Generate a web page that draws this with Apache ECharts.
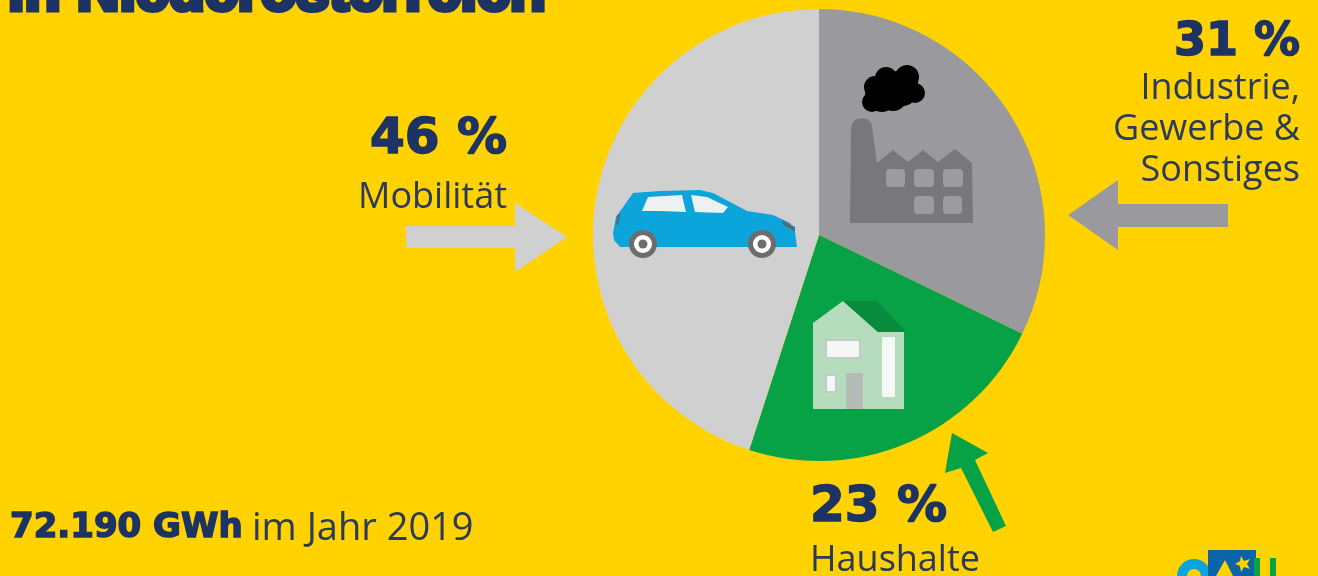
<!DOCTYPE html>
<html>
<head>
<meta charset="utf-8">
<style>
  html, body { margin: 0; padding: 0; background: #ffd200; overflow: hidden; }
  #chart { width: 1318px; height: 576px; }
</style>
<script src="https://cdn.jsdelivr.net/npm/echarts@6/dist/echarts.min.js"></script>
</head>
<body>
<div id="chart"></div>
<script>
// Daten
const categories = ['Industrie, Gewerbe & Sonstiges', 'Haushalte', 'Mobilität']
const percentLabels = ['31 %', '23 %', '46 %']
// Sektoren wie im Bild gemessen (weicht leicht von den aufgedruckten Prozenten ab)
const sliceValues = [32.2, 22.8, 45]
const title = 'in Niederösterreich'
const totalValue = '72.190 GWh'
const totalSuffix = 'im Jahr 2019'

// Farben
const NAVY = '#1d3364'
const TEXT = '#2b3a5c'
const GREY = '#9a9a9e'
const LIGHT = '#d0d0d0'
const GREEN = '#07a245'
const BLUE = '#0ba5dc'

const chart = echarts.init(document.getElementById('chart'))

const poly = (points, fill) => ({ type: 'polygon', z: 10, shape: { points }, style: { fill } })
const rect = (x, y, width, height, fill, r = 0) => ({ type: 'rect', z: 10, shape: { x, y, width, height, r }, style: { fill } })
const circle = (cx, cy, r, fill) => ({ type: 'circle', z: 10, shape: { cx, cy, r }, style: { fill } })
// y ist die Mitte der Textzeile
const text = (x, y, str, font, fill, align = 'left', extra = {}) => ({
  type: 'text', z: 11, x, y,
  style: { text: str, font, fill, align, verticalAlign: 'middle', ...extra }
})

const BOLD = '700 50px "DejaVu Sans"'
const LABEL = '400 36px "Open Sans"'
const HEAVY = { stroke: NAVY, lineWidth: 1.5 }

// Pfeile
const arrows = [
  poly([[406, 226], [515, 226], [515, 203], [567, 237], [515, 272], [515, 248], [406, 248]], LIGHT),
  poly([[1228, 204], [1118, 204], [1118, 180], [1068, 215], [1118, 250], [1118, 227], [1228, 227]], GREY),
  poly([[952, 433], [988, 453], [975, 460], [1006, 526], [993, 532], [961, 468], [945, 473]], GREEN)
]

// Auto
const car = [
  poly([[633, 193], [660, 191], [700, 190], [713, 193], [747, 211], [773, 215], [790, 223], [795, 232], [797, 247], [620, 247], [614, 240], [613, 233], [616, 217]], BLUE),
  poly([[648, 197], [682, 195], [686, 212], [660, 211], [642, 211]], '#eef1f2'),
  poly([[691, 195], [707, 197], [728, 207], [723, 213], [695, 212]], '#eef1f2'),
  poly([[782, 220], [795, 227], [795, 232], [783, 225]], '#4c6f86'),
  poly([[617, 215], [621, 214], [618, 225], [616, 225]], '#4c6f86'),
  circle(643, 244, 14, '#6d6d6d'), circle(643, 244, 9, '#ffffff'), circle(643, 244, 4.5, '#6d6d6d'),
  circle(762, 244, 14, '#6d6d6d'), circle(762, 244, 9, '#ffffff'), circle(762, 244, 4.5, '#6d6d6d')
]

// Fabrik
const factory = [
  poly([[850, 223], [851, 127], [853, 122], [857, 119], [862, 118], [867, 119], [871, 122], [872, 127], [877, 163], [893, 150], [908, 162], [923, 150], [938, 162], [955, 149], [972, 163], [973, 223]], '#78787c'),
  rect(886, 169, 19, 18, '#9c9c9f', 4), rect(914, 169, 20, 18, '#9c9c9f', 4), rect(943, 169, 20, 18, '#9c9c9f', 4),
  rect(914, 196, 20, 18, '#9c9c9f', 4), rect(943, 196, 19, 18, '#9c9c9f', 4),
  circle(875, 87, 11, '#000'), circle(886, 78, 11, '#000'), circle(907, 77, 12, '#000'), circle(915, 93, 10, '#000'),
  circle(893, 97, 14, '#000'), circle(872, 102, 10, '#000'), circle(882, 100, 12, '#000'), circle(903, 93, 13, '#000'),
  circle(893, 85, 14, '#000'), circle(878, 92, 13, '#000'), circle(905, 85, 13, '#000')
]

// Haus
const house = [
  poly([[813, 323], [843, 301], [878, 332], [904, 332], [904, 409], [813, 409]], '#b5dcbc'),
  poly([[843, 301], [877, 301], [906, 332], [878, 332]], '#078c3c'),
  rect(825, 339, 36, 20, '#c2cac6'), rect(827, 341, 32, 16, '#f4f7f5'),
  rect(882, 337, 13, 60, '#f4f9f5'),
  rect(825, 374, 12, 19, '#c2cac6'), rect(827, 376, 8, 15, '#f4f7f5'),
  rect(846, 373, 17, 36, '#b4bcb8')
]

// Logo unten rechts
const logo = [
  { type: 'ring', z: 10, shape: { cx: 1194, cy: 576, r: 17, r0: 7 }, style: { fill: BLUE } },
  rect(1208, 550, 48, 26, '#0b63a8'),
  poly([[1216, 576], [1225, 560], [1233, 576]], '#ffd200'),
  poly([[1241, 556], [1244, 561], [1250, 559], [1247, 564], [1250, 569], [1244, 567], [1241, 572], [1240, 566], [1235, 564], [1240, 561]], '#ffd200'),
  rect(1254, 558, 6, 18, GREEN), rect(1270, 558, 6, 18, GREEN)
]

const texts = [
  text(8, -6, title, '900 59px "Liberation Sans"', NAVY, 'left', { stroke: NAVY, lineWidth: 5 }),
  text(507, 140, percentLabels[2], BOLD, NAVY, 'right', HEAVY),
  text(507, 198, categories[2], LABEL, TEXT, 'right'),
  text(1300, 43, percentLabels[0], '700 46px "DejaVu Sans"', NAVY, 'right', HEAVY),
  text(1300, 89, 'Industrie,', LABEL, TEXT, 'right'),
  text(1300, 130, 'Gewerbe &', LABEL, TEXT, 'right'),
  text(1300, 171, 'Sonstiges', LABEL, TEXT, 'right'),
  text(810, 508, percentLabels[1], BOLD, NAVY, 'left', HEAVY),
  text(810, 561, categories[1], LABEL, TEXT),
  text(10, 528, totalValue, '700 34px "DejaVu Sans"', NAVY, 'left', HEAVY),
  text(252, 529, totalSuffix, '400 38px "Open Sans"', TEXT)
]

const option = {
  animation: false,
  backgroundColor: '#ffd200',
  series: [
    {
      type: 'pie',
      center: [819, 235],
      radius: 226,
      startAngle: 90,
      clockwise: true,
      silent: true,
      label: { show: false },
      labelLine: { show: false },
      data: categories.map((name, i) => ({
        name,
        value: sliceValues[i],
        itemStyle: { color: [GREY, GREEN, LIGHT][i] }
      }))
    }
  ],
  graphic: { elements: [...arrows, ...car, ...factory, ...house, ...logo, ...texts] }
}

chart.setOption(option)
</script>
</body>
</html>
